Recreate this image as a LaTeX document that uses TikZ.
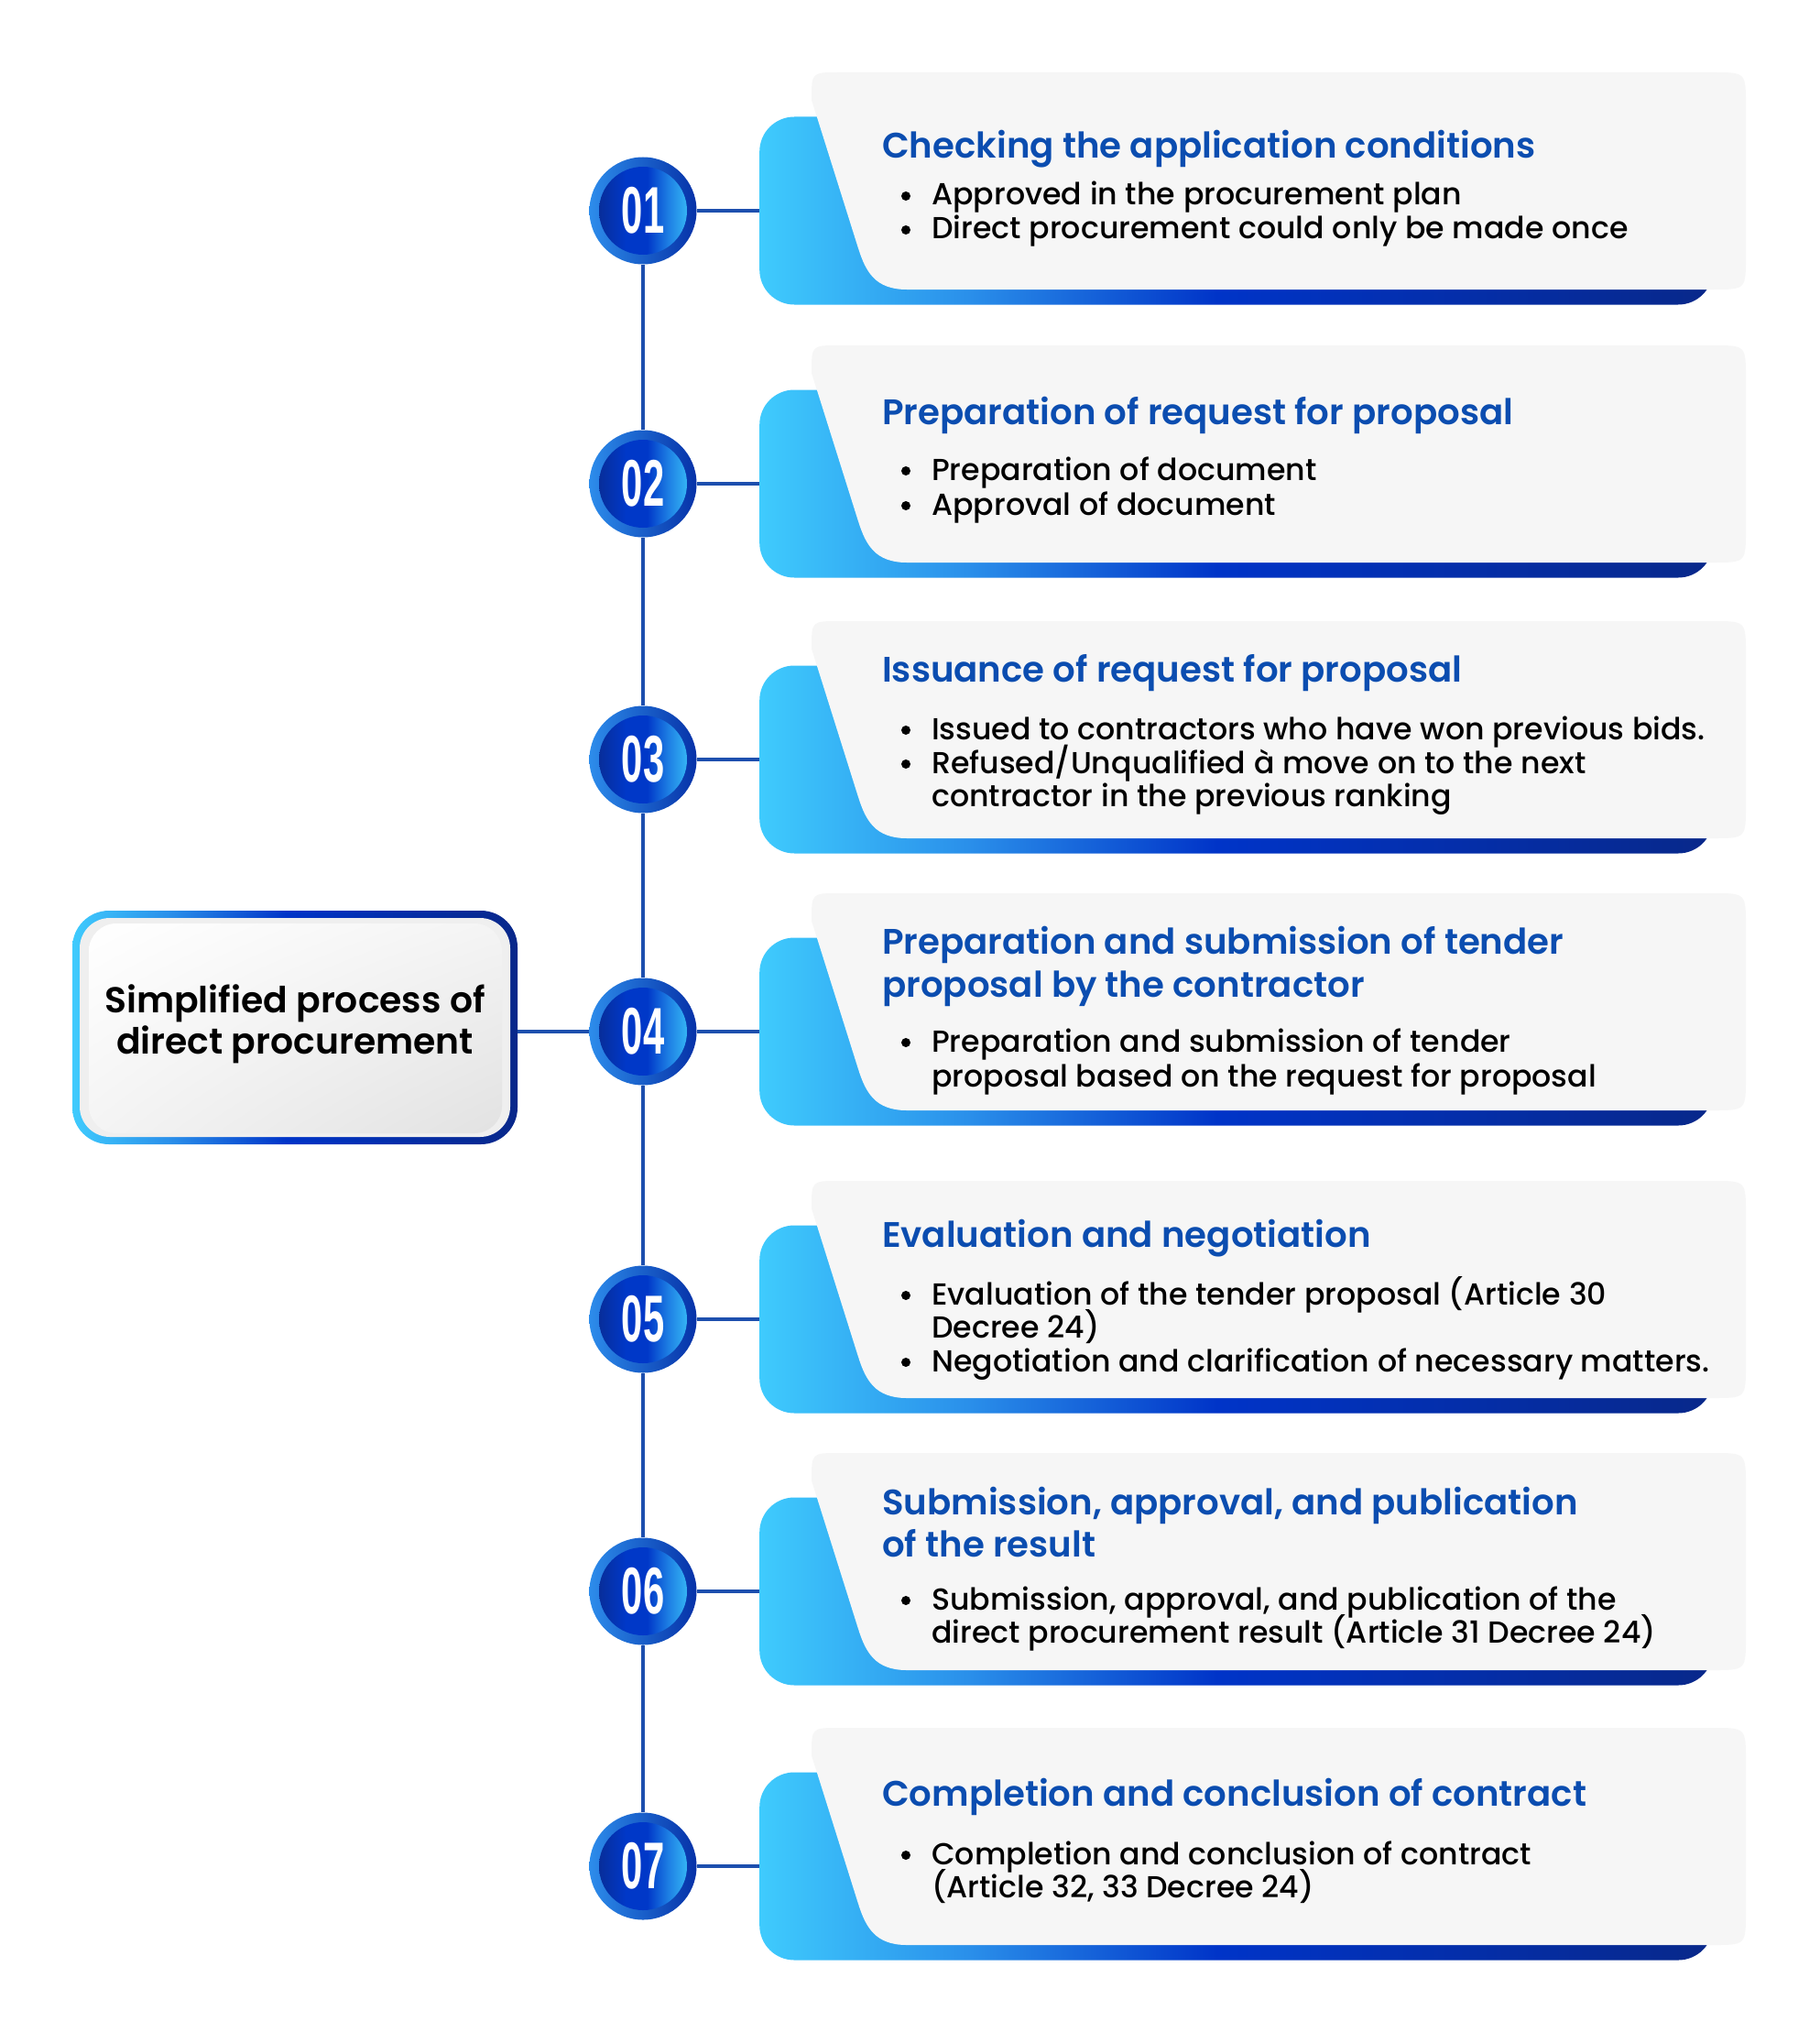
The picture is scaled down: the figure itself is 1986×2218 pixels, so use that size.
\documentclass[tikz,border=0pt]{standalone}
\usepackage{fontspec}
\usetikzlibrary{shadings}
\setmainfont{Poppins}
\newfontfamily\bodyfont{Poppins Medium}
\newfontfamily\titlefont{Poppins SemiBold}
\newfontfamily\numfont{Liberation Sans}[FakeStretch=0.58]
\definecolor{bcyan}{HTML}{3FCBFD}
\definecolor{bmid}{HTML}{2A8FEA}
\definecolor{bblue}{HTML}{0034C8}
\definecolor{bnavy}{HTML}{08288A}
\definecolor{titleblue}{HTML}{0B4DB0}
\definecolor{lineblue}{HTML}{1D4FAE}
\definecolor{cardgray}{HTML}{F6F6F6}
\definecolor{ringl}{HTML}{2D8CEB}
\definecolor{ringd}{HTML}{0632A8}
\definecolor{dnavy}{HTML}{0A2A8A}
\definecolor{dblue}{HTML}{0038C8}
\definecolor{dmid}{HTML}{1E80E4}
\definecolor{dlight}{HTML}{38BDF7}
\definecolor{boxband}{HTML}{EFEFEF}
\definecolor{boxgray}{HTML}{E2E2E2}
\definecolor{boxmid}{HTML}{F4F4F4}
\pgfdeclarehorizontalshading{barshade}{100bp}{color(0bp)=(bcyan); color(25bp)=(bcyan); color(36bp)=(bmid); color(49bp)=(bblue); color(75bp)=(bnavy); color(100bp)=(bnavy)}
\pgfdeclareverticalshading{discshade}{100bp}{color(0bp)=(dlight); color(28bp)=(dlight); color(38bp)=(dmid); color(48bp)=(dblue); color(58bp)=(dblue); color(75bp)=(dnavy); color(100bp)=(dnavy)}
\tikzset{
  barnode/.style={anchor=west, rectangle, rounded corners=38pt, minimum width=1041pt, minimum height=205pt, inner sep=0pt, shade, shading=barshade},
  numcircle/.style={circle, minimum size=117pt, inner sep=0pt, left color=ringl, right color=ringd, text=white,
    font=\numfont\bfseries\fontsize{72}{72}\selectfont,
    path picture={\shade[shading=discshade] (path picture bounding box.center) circle[radius=48pt];}},
  conn/.style={draw=lineblue, line width=3.5pt},
  ttlstyle/.style={anchor=base west, inner sep=0pt, text=titleblue, font=\titlefont\fontsize{38.7}{46}\selectfont},
  itmstyle/.style={anchor=base west, inner sep=0pt, text=black, font=\bodyfont\fontsize{33.2}{37}\selectfont},
  dotstyle/.style={circle, fill=black, inner sep=0pt, minimum size=10pt},
  mainbox/.style={rectangle, rounded corners=40pt, minimum width=486pt, minimum height=255pt, inner sep=0pt, shade, shading=barshade,
    path picture={
      \fill[boxband, rounded corners=33pt] ([shift={(8,8)}]path picture bounding box.north west) rectangle ([shift={(-8,-8)}]path picture bounding box.south east);
      \shade[rounded corners=30pt, upper left=white, upper right=boxmid, lower left=boxmid, lower right=boxgray] ([shift={(18,14)}]path picture bounding box.north west) rectangle ([shift={(-17,-12)}]path picture bounding box.south east);
    }},
  maintext/.style={align=center, inner sep=0pt, text=black, font=\titlefont\fontsize{39.3}{45}\selectfont}
}
\newcommand\card[2]{%
  \node[barnode] (b#1) at (829,#2) {};
  \fill[cardgray] (886,{#2-121}) .. controls (886,{#2-151}) .. (916,{#2-151}) -- (1870,{#2-151}) .. controls (1906,{#2-151}) .. (1906,{#2-115}) -- (1906,{#2+50}) .. controls (1906,{#2+86}) .. (1870,{#2+86}) -- (990,{#2+86}) .. controls (955,{#2+86}) and (945,{#2+66}) .. (937,{#2+41}) -- cycle;
  \node[numcircle] (n#1) at (702,#2) {0#1};
  \draw[conn] (n#1) -- (b#1);
}
\newcommand\ttl[3]{\node[ttlstyle] (#1) at (963,#2) {#3};}
\newcommand\itm[3]{\node[dotstyle] (#1d) at (989,{#2-10}) {}; \node[itmstyle] (#1) at (1017,#2) {#3};}
\newcommand\cont[3]{\node[itmstyle] (#1) at (1017,#2) {#3};}
\begin{document}
\begin{tikzpicture}[x=1pt,y=-1pt]
\fill[white] (0,0) rectangle (1986,2218);
\useasboundingbox (0,0) rectangle (1986,2218);
\card{1}{230}
\card{2}{528}
\card{3}{829}
\card{4}{1126}
\card{5}{1440}
\card{6}{1737}
\card{7}{2037}
\draw[conn] (n1) -- (n2);
\draw[conn] (n2) -- (n3);
\draw[conn] (n3) -- (n4);
\draw[conn] (n4) -- (n5);
\draw[conn] (n5) -- (n6);
\draw[conn] (n6) -- (n7);
\node[mainbox] (main) at (322,1121.5) {};
\node[maintext] (maintitle) at (322,1118) {Simplified process of\\direct procurement};
\draw[conn] (main.east |- n4.west) -- (n4.west);
% card 1
\ttl{t1}{173}{Checking the application conditions}
\itm{i1a}{224}{Approved in the procurement plan}
\itm{i1b}{261}{Direct procurement could only be made once}
% card 2
\ttl{t2}{463}{Preparation of request for proposal}
\itm{i2a}{524}{Preparation of document}
\itm{i2b}{562}{Approval of document}
% card 3
\ttl{t3}{744}{Issuance of request for proposal}
\itm{i3a}{807}{Issued to contractors who have won previous bids.}
\itm{i3b}{844}{Refused/Unqualified à move on to the next}
\cont{i3c}{880}{contractor in the previous ranking}
% card 4
\ttl{t4a}{1041}{Preparation and submission of tender}
\ttl{t4b}{1088}{proposal by the contractor}
\itm{i4a}{1148}{Preparation and submission of tender}
\cont{i4b}{1186}{proposal based on the request for proposal}
% card 5
\ttl{t5}{1361}{Evaluation and negotiation}
\itm{i5a}{1424}{Evaluation of the tender proposal (Article 30}
\cont{i5b}{1460}{Decree 24)}
\itm{i5c}{1497}{Negotiation and clarification of necessary matters.}
% card 6
\ttl{t6a}{1653}{Submission, approval, and publication}
\ttl{t6b}{1699}{of the result}
\itm{i6a}{1757}{Submission, approval, and publication of the}
\cont{i6b}{1793}{direct procurement result (Article 31 Decree 24)}
% card 7
\ttl{t7}{1971}{Completion and conclusion of contract}
\itm{i7a}{2035}{Completion and conclusion of contract}
\cont{i7b}{2071}{(Article 32, 33 Decree 24)}
\end{tikzpicture}
\end{document}
